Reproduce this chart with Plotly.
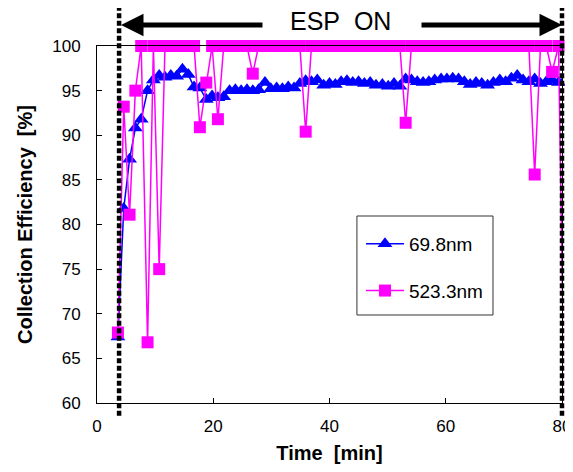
import plotly.graph_objects as go

# ---- data ----
time_min = [3.6, 4.6, 5.6, 6.6, 7.6, 8.7, 9.7, 10.7, 11.7, 12.7,
            13.7, 14.7, 15.7, 16.7, 17.7, 18.8, 19.8, 20.8, 21.8, 22.8,
            23.8, 24.8, 25.8, 26.8, 27.8, 28.9, 29.9, 30.9, 31.9, 32.9,
            33.9, 34.9, 35.9, 36.9, 37.9, 39.0, 40.0, 41.0, 42.0, 43.0,
            44.0, 45.0, 46.0, 47.0, 48.0, 49.1, 50.1, 51.1, 52.1, 53.1,
            54.1, 55.1, 56.1, 57.1, 58.1, 59.2, 60.2, 61.2, 62.2, 63.2,
            64.2, 65.2, 66.2, 67.2, 68.2, 69.3, 70.3, 71.3, 72.3, 73.3,
            74.3, 75.3, 76.3, 77.3, 78.3, 79.4, 80.4]

eff_69_8nm = [67.4, 81.8, 87.3, 90.8, 91.8, 95.0, 96.2, 96.7, 96.5, 96.7,
              96.6, 97.4, 96.8, 95.4, 95.3, 94.0, 94.4, 94.2, 94.3, 95.0,
              95.1, 95.0, 95.1, 95.0, 95.1, 95.9, 95.2, 95.3, 95.2, 95.4,
              95.3, 95.8, 96.1, 96.0, 96.2, 95.6, 95.8, 95.7, 96.0, 96.1,
              95.9, 96.0, 95.8, 95.9, 95.6, 95.7, 95.5, 95.8, 95.5, 96.3,
              96.2, 96.0, 95.9, 96.0, 96.2, 96.3, 96.3, 96.4, 96.3, 96.0,
              95.7, 95.9, 95.8, 95.6, 95.9, 96.2, 96.0, 96.4, 96.7, 96.2,
              96.0, 96.3, 95.8, 96.0, 96.2, 95.9, 96.6]

eff_523_3nm = [67.9, 93.2, 81.1, 95.0, 100, 66.8, 100, 75.0, 100, 100,
               100, 100, 100, 100, 90.9, 95.9, 100, 91.8, 100, 100,
               100, 100, 100, 96.9, 100, 100, 100, 100, 100, 100,
               100, 100, 90.4, 100, 100, 100, 100, 100, 100, 100,
               100, 100, 100, 100, 100, 100, 100, 100, 100, 91.4,
               100, 100, 100, 100, 100, 100, 100, 100, 100, 100,
               100, 100, 100, 100, 100, 100, 100, 100, 100, 100,
               100, 85.6, 100, 100, 97.1, 100, 59.3]

esp_on_start = 3.8
esp_on_end = 80.0
x_range = [0, 80]
x_ticks = [0, 20, 40, 60, 80]
y_ticks = [60, 65, 70, 75, 80, 85, 90, 95, 100]

FONT = "Liberation Sans"

fig = go.Figure()

fig.add_trace(go.Scatter(
    x=time_min, y=eff_69_8nm, name="69.8nm", mode="lines+markers",
    legendgroup="a",
    line=dict(color="#0000FF", width=1.5),
    marker=dict(symbol="triangle-up", size=13, color="#0000FF"),
    cliponaxis=False,
))

fig.add_trace(go.Scatter(
    x=time_min[:-1], y=eff_523_3nm[:-1], name="523.3nm", mode="lines+markers",
    legendgroup="b",
    line=dict(color="#FF00FF", width=1.5),
    marker=dict(symbol="square", size=12, color="#FF00FF"),
    cliponaxis=False,
))
# last segment (value below the axis range): line only
fig.add_trace(go.Scatter(
    x=time_min[-2:], y=eff_523_3nm[-2:], mode="lines", showlegend=False,
    line=dict(color="#FF00FF", width=1.5),
    cliponaxis=False,
))

# ESP on/off dotted markers (paper x so they are not clipped at the plot edge)
for xv in (esp_on_start, esp_on_end):
    xp = (xv - x_range[0]) / (x_range[1] - x_range[0])
    fig.add_shape(type="line", xref="paper", yref="paper", x0=xp, x1=xp,
                  y0=-0.036, y1=1.109,
                  line=dict(color="black", width=4.5, dash="5px,2.5px"))

# legend frame
fig.add_shape(type="rect", xref="paper", yref="paper",
              x0=0.559, x1=0.8516, y0=0.2465, y1=0.5238,
              line=dict(color="#333333", width=1), fillcolor="white",
              layer="below")

# arrows and label
fig.add_annotation(xref="paper", yref="paper", x=0.0516, y=1.0588,
                   text="", showarrow=True, arrowhead=2, arrowsize=0.9,
                   arrowwidth=5, arrowcolor="black", ax=143, ay=0)
fig.add_annotation(xref="paper", yref="paper", x=1.0, y=1.0588,
                   text="", showarrow=True, arrowhead=2, arrowsize=0.9,
                   arrowwidth=5, arrowcolor="black", ax=-142, ay=0)
fig.add_annotation(xref="paper", yref="paper", x=0.5226, y=1.07,
                   xanchor="center", yanchor="middle",
                   text="ESP\u00a0 ON", showarrow=False,
                   font=dict(family=FONT, size=25, color="black"))

axis_common = dict(
    showline=True, linecolor="black", linewidth=1, mirror=True,
    ticks="inside", ticklen=5, tickcolor="black", showgrid=False,
    zeroline=False, automargin=False,
    tickfont=dict(family=FONT, size=17, color="black"),
)

# page body has an 8px margin: the figure is sized so it fits the window
fig.update_layout(
    width=565, height=464,
    margin=dict(l=89, r=11, t=38, b=69),
    paper_bgcolor="white", plot_bgcolor="white",
    xaxis=dict(range=x_range, tickvals=x_ticks,
               title=dict(text="Time\u00a0 [min]", standoff=10,
                          font=dict(family=FONT, size=20, color="black", weight="bold")),
               ticklabelstandoff=8, **axis_common),
    yaxis=dict(range=[60, 100], tickvals=y_ticks,
               title=dict(text="Collection Efficiency\u00a0 [%]", standoff=14,
                          font=dict(family=FONT, size=20, color="black", weight="bold")),
               ticklabelstandoff=12, **axis_common),
    legend=dict(x=0.5677, y=0.4986, xanchor="left", yanchor="top",
                borderwidth=0, bgcolor="rgba(0,0,0,0)",
                font=dict(family=FONT, size=19, color="black"),
                tracegroupgap=19, itemwidth=38),
    showlegend=True,
)

fig.write_html("out.html")
